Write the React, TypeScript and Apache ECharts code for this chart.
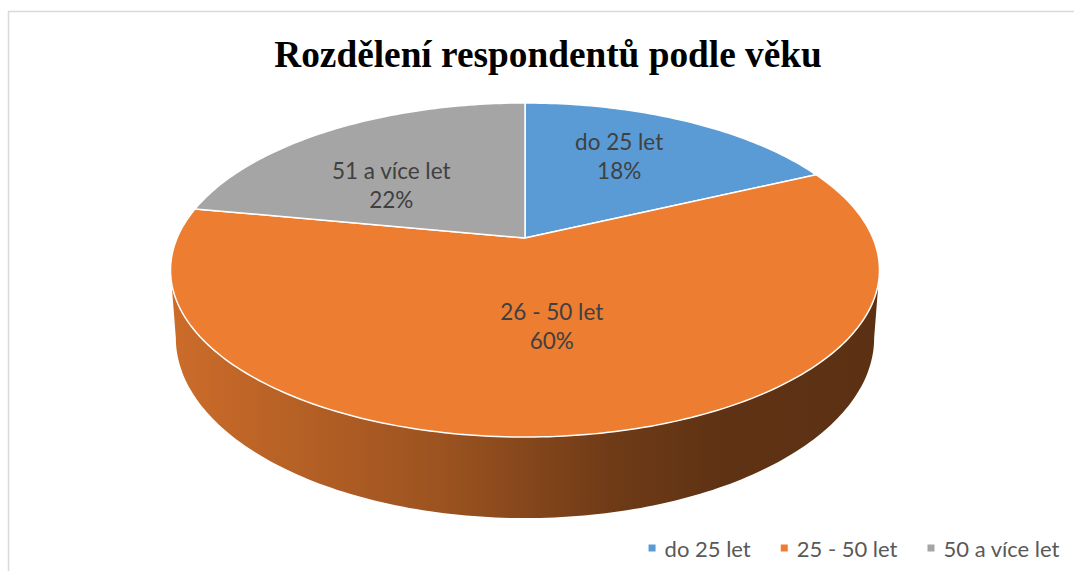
import React, { useEffect, useRef } from "react";
import * as echarts from "echarts";

const TITLE = "Rozdělení respondentů podle věku";
const CATEGORIES = ["do 25 let", "26 - 50 let", "51 a více let"];
const VALUES = [18, 60, 22];
const LEGEND_NAMES = ["do 25 let", "25 - 50 let", "50 a více let"];
const COLORS = ["#5B9BD5", "#ED7D31", "#A5A5A5"];

// projection constants (layout)
const CX = 525;
const CY = 238;
const RX = 347.9;
const RY = 160.9;
const PERSP = 0.1916;
const DEPTH = 65.5;
const LABEL_R = 0.55;
// small label nudges (layout only), per slice order
const LABEL_NUDGE = [
  [0, -13],
  [0, -10],
  [-21, 10],
];

function project(r: number, t: number, bottom: boolean) {
  const X = r * Math.sin(t);
  const Z = r * Math.cos(t);
  const w = 1 + PERSP * Z;
  const x = CX + ((RX * X) / w) * (bottom ? 0.985 : 1);
  const y = CY - (RY * Z) / w + (bottom ? DEPTH / w : 0);
  return [x, y];
}

function shade(hex: string, f: number) {
  const n = parseInt(hex.slice(1), 16);
  const r = Math.round(((n >> 16) & 255) * f);
  const g = Math.round(((n >> 8) & 255) * f);
  const b = Math.round((n & 255) * f);
  return `rgb(${r},${g},${b})`;
}

export default function App() {
  const ref = useRef<HTMLDivElement>(null);
  useEffect(() => {
    if (!ref.current) return;
    const chart = echarts.init(ref.current, undefined, { renderer: "svg" });
    const total = VALUES.reduce((a, b) => a + b, 0);

    const renderItem = (params: any, api: any) => {
      const i = params.dataIndex;
      const v = api.value(0);
      let start = 0;
      for (let k = 0; k < i; k++) start += VALUES[k];
      const t1 = (start / total) * Math.PI * 2;
      const t2 = ((start + v) / total) * Math.PI * 2;
      const color = COLORS[i % COLORS.length];
      const children: any[] = [];

      // top face
      const topPts: number[][] = [project(0, 0, false)];
      const steps = Math.max(8, Math.ceil(((t2 - t1) * 180) / Math.PI));
      for (let s = 0; s <= steps; s++) {
        const t = t1 + ((t2 - t1) * s) / steps;
        topPts.push(project(1, t, false));
      }
      children.push({
        type: "polygon",
        shape: { points: topPts },
        style: { fill: color, stroke: "#FFFFFF", lineWidth: 1.5, lineJoin: "round" },
        z2: 10,
      });

      // visible outer side
      const ts = Math.acos(-PERSP);
      const a = Math.max(t1, ts);
      const b = Math.min(t2, Math.PI * 2 - ts);
      if (b > a) {
        const n = Math.max(8, Math.ceil(((b - a) * 180) / Math.PI));
        const up: number[][] = [];
        const down: number[][] = [];
        for (let s = 0; s <= n; s++) {
          const t = a + ((b - a) * s) / n;
          up.push(project(1, t, false));
          down.push(project(1, t, true));
        }
        const pts = up.concat(down.reverse());
        const xs = pts.map((p) => p[0]);
        const minX = Math.min(...xs);
        const maxX = Math.max(...xs);
        children.push({
          type: "polygon",
          shape: { points: pts },
          style: {
            fill: {
              type: "linear",
              x: minX,
              y: 0,
              x2: maxX,
              y2: 0,
              global: true,
              colorStops: [
                { offset: 0, color: shade(color, 0.86) },
                { offset: 0.38, color: shade(color, 0.66) },
                { offset: 0.62, color: shade(color, 0.47) },
                { offset: 0.78, color: shade(color, 0.4) },
                { offset: 1, color: shade(color, 0.39) },
              ],
            },
          },
          z2: 1,
        });
      }

      // label
      const mid = (t1 + t2) / 2;
      const lp = project(LABEL_R, mid, false);
      const nudge = LABEL_NUDGE[i] || [0, 0];
      children.push({
        type: "text",
        x: lp[0] + nudge[0],
        y: lp[1] + nudge[1],
        style: {
          text: CATEGORIES[i] + "\n" + Math.round((v / total) * 100) + "%",
          fill: "#404040",
          fontFamily: "Lato",
          fontSize: 22.5,
          lineHeight: 29,
          align: "center",
          verticalAlign: "middle",
        },
        z2: 30,
      });

      return { type: "group", children };
    };

    chart.setOption({
      animation: false,
      title: {
        text: TITLE,
        left: 548,
        top: 36,
        padding: 0,
        textAlign: "center",
        textStyle: {
          fontFamily: "Liberation Serif",
          fontWeight: "bold",
          fontSize: 37.3,
          color: "#000000",
        },
      },
      legend: {
        data: LEGEND_NAMES,
        right: 9,
        top: 532,
        icon: "rect",
        itemWidth: 7,
        itemHeight: 7,
        itemGap: 30,
        selectedMode: false,
        textStyle: {
          fontFamily: "Lato",
          fontSize: 22,
          color: "#595959",
          padding: [0, 0, 0, 4],
        },
      },
      graphic: [
        {
          type: "rect",
          shape: { x: 8.5, y: 11.5, width: 1100, height: 600 },
          style: { fill: "none", stroke: "#D9D9D9", lineWidth: 1.5 },
          silent: true,
        },
      ],
      series: [
        {
          type: "custom",
          coordinateSystem: "none",
          data: VALUES,
          renderItem,
          silent: true,
        },
        {
          type: "pie",
          radius: [0, 0],
          center: [-100, -100],
          silent: true,
          label: { show: false },
          labelLine: { show: false },
          data: LEGEND_NAMES.map((n, i) => ({
            name: n,
            value: VALUES[i],
            itemStyle: { color: COLORS[i] },
          })),
        },
      ],
    });
    return () => chart.dispose();
  }, []);
  return (
    <div
      ref={ref}
      style={{ position: "fixed", left: 0, top: 0, width: 1074, height: 571, background: "#FFFFFF" }}
    />
  );
}
